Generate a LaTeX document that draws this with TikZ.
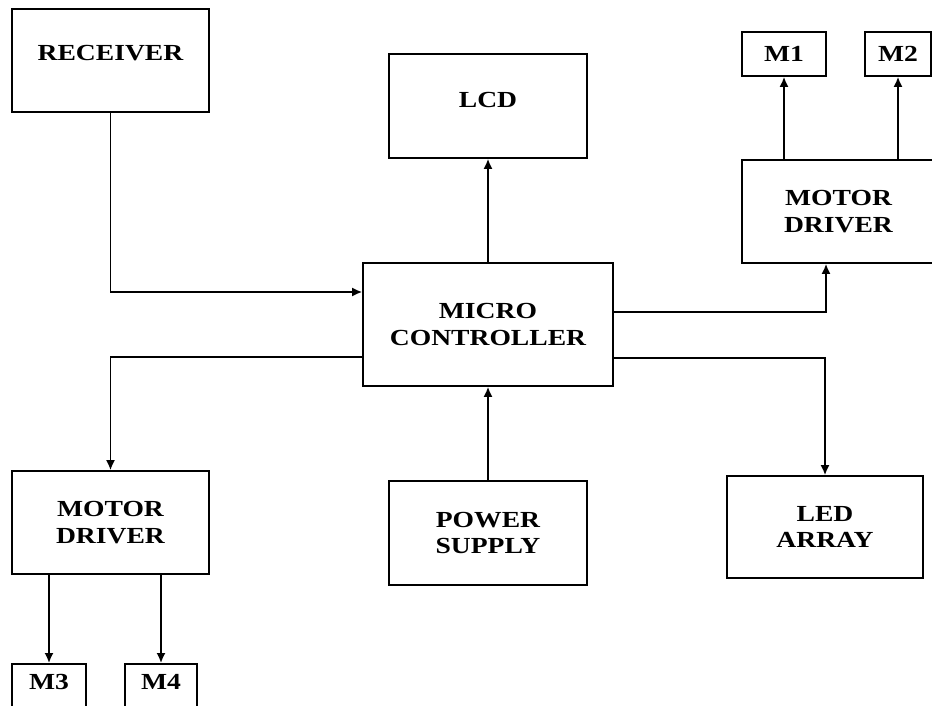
\documentclass[tikz,border=0pt]{standalone}
\usepackage{fontspec}
\setmainfont{Liberation Serif}[FakeStretch=1.2]
\usetikzlibrary{arrows.meta}

\begin{document}
\begin{tikzpicture}[x=1pt,y=-1pt,
  block/.style={draw,line width=1.7pt,align=center,font=\fontsize{23}{26.5}\selectfont\bfseries},
  motor/.style={block,anchor=north,inner ysep=10pt,text height=16pt,text depth=40pt},
  arr/.style={line width=1.7pt,-{Latex[length=10pt,width=9pt]}}]

\clip (0,0) rectangle (932,706);

\node[block,minimum width=197pt,minimum height=103pt,text depth=16pt] (rec) at (110.5,60.5) {RECEIVER};
\node[block,minimum width=198pt,minimum height=104pt,text depth=12pt] (lcd) at (488,106) {LCD};
\node[block,minimum width=250pt,minimum height=123pt] (mc) at (488,324.5) {MICRO\\CONTROLLER};
\node[block,minimum width=198pt,minimum height=104pt] (ps) at (488,533) {POWER\\SUPPLY};
\node[block,minimum width=196pt,minimum height=102pt] (led) at (825,527) {LED\\ARRAY};
\node[block,minimum width=197pt,minimum height=103pt] (mdl) at (110.5,522.5) {MOTOR\\DRIVER};
\node[block,minimum width=193pt,minimum height=103pt] (mdr) at (838.5,211.5) {MOTOR\\DRIVER};

\node[block,minimum width=84pt,minimum height=44pt] (m1) at (784,54) {M1};
\node[block,minimum width=66pt,minimum height=44pt] (m2) at (898,54) {M2};
\node[motor,minimum width=74pt] (m3) at (49,663) {M3};
\node[motor,minimum width=72pt] (m4) at (161,663) {M4};

\draw[arr] (rec.south) |- ([yshift=32.5pt]mc.west);
\draw[arr] (mc.north) -- (lcd.south);
\draw[arr] (ps.north) -- (mc.south);
\draw[arr] ([yshift=12.5pt]mc.east) -| ([xshift=-12.5pt]mdr.south);
\draw[arr] ([yshift=-33.5pt]mc.east) -| (led.north);
\draw[arr] ([yshift=-32.5pt]mc.west) -| (mdl.north);
\draw[arr] (mdr.north -| m1.south) -- (m1.south);
\draw[arr] (mdr.north -| m2.south) -- (m2.south);
\draw[arr] (mdl.south -| m3.north) -- (m3.north);
\draw[arr] (mdl.south -| m4.north) -- (m4.north);

\end{tikzpicture}
\end{document}
